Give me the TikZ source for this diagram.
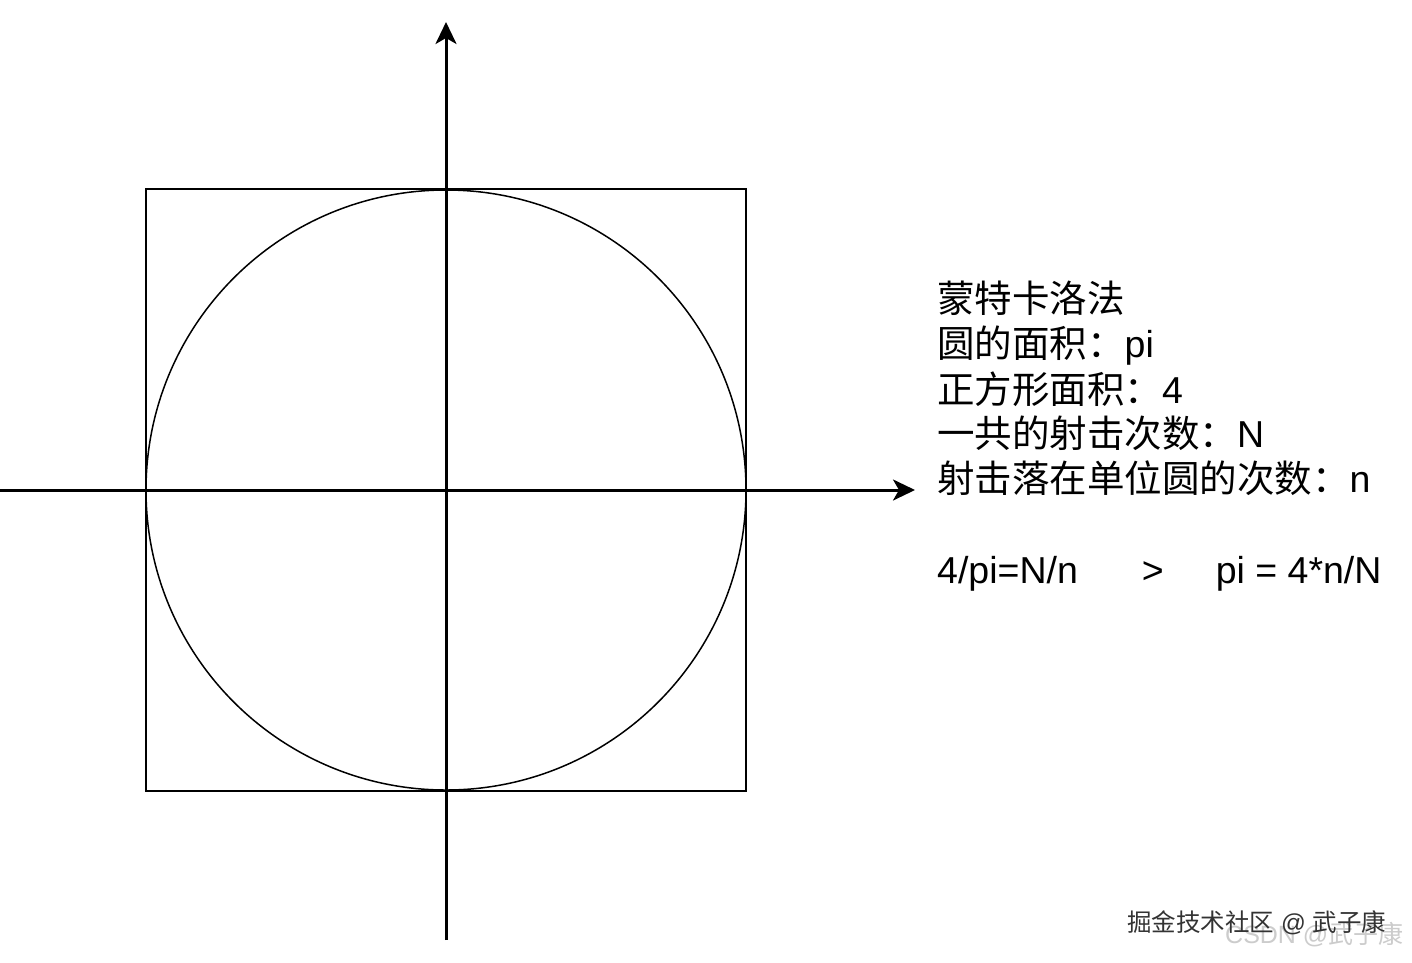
\documentclass[tikz,border=0pt]{standalone}
\usepackage{fontspec}
\setmainfont{Liberation Sans}
\newfontfamily\cjk{Noto Sans CJK SC}
\usetikzlibrary{arrows.meta}
\begin{document}
\begin{tikzpicture}[x=1pt,y=-1pt,
  axisline/.style={line width=3pt,-{Stealth[length=22pt,width=21pt,inset=6pt]}},
  outline/.style={draw,line width=1.5pt,inner sep=0pt},
  txt/.style={anchor=base west,inner sep=0pt,font=\fontsize{37.5}{45}\selectfont},
  wm/.style={anchor=base west,inner sep=0pt,font=\fontsize{24.5}{28}\selectfont,text=black!80},
  wmg/.style={anchor=base west,inner sep=0pt,font=\fontsize{25}{28}\selectfont,text=black!20},
]
\useasboundingbox[fill=white] (0,0) rectangle (1412,962);
% square and circle
\node[outline,rectangle,minimum width=600pt,minimum height=602pt] (sq) at (446,490) {};
\node[outline,circle,minimum size=600pt] (circ) at (446,490) {};
% axes
\coordinate (ybot) at (446,940);
\coordinate (ytop) at (446,22);
\coordinate (xleft) at (0,490);
\coordinate (xright) at (915,490);
\draw[axisline] (ybot) -- (ytop);
\draw[axisline] (xleft) -- (xright);
% text
\node[txt] (t1) at (937,312) {\cjk 蒙特卡洛法};
\node[txt] (t2) at (937,357) {{\cjk 圆的面积：}pi};
\node[txt] (t3) at (937,403) {{\cjk 正方形面积：}4};
\node[txt] (t4) at (937,447) {{\cjk 一共的射击次数：}N};
\node[txt] (t5) at (937,492) {{\cjk 射击落在单位圆的次数：}n};
\node[txt] (t6) at (937,583) {4/pi=N/n\hspace{64pt}>\hspace{52pt}pi = 4*n/N};
% watermarks
\node[wmg] (w2) at (1225,943) {CSDN @{\cjk 武子康}};
\node[wm] (w1) at (1127,931) {{\cjk 掘金技术社区} @ {\cjk 武子康}};
\end{tikzpicture}
\end{document}
